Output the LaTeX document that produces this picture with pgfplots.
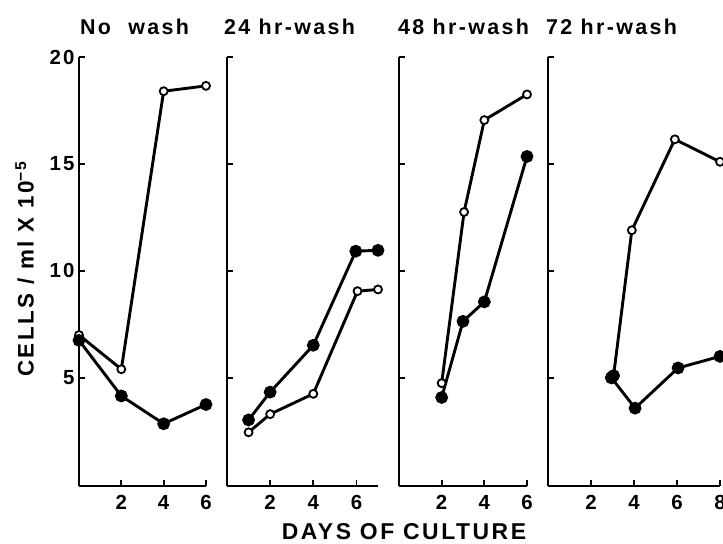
\documentclass[border=0pt]{standalone}
\usepackage{fontspec}
\setmainfont{Liberation Sans}[LetterSpace=11]
\usepackage{pgfplots}
\pgfplotsset{compat=1.18}
\pgfplotsset{
  panel/.style={
    scale only axis,
    axis x line*=bottom, axis y line*=left,
    axis line style={line width=2bp, black},
    ymin=-0.06, ymax=20, height=429bp,
    ytick={5,10,15,20},
    yticklabels={},
    xtick={2,4,6},
    tick align=inside,
    major tick length=6bp,
    every tick/.style={line width=1.8bp, black},
    /pgf/number format/assume math mode=true,
    tick label style={font=\bfseries\fontsize{20.5}{22}\selectfont},
    xticklabel style={yshift=-6bp},
    yticklabel style={xshift=-1bp},
    clip=false,
    anchor=south west,
  },
  openc/.style={line width=2.9bp, black, mark=*, mark size=4bp,
    mark options={fill=white, draw=black, line width=1.8bp, solid}},
  fillc/.style={line width=2.9bp, black, mark=*, mark size=4.9bp,
    mark options={fill=black, draw=black, solid}},
}
\begin{document}
\begin{tikzpicture}
\newcommand{\lbl}{\bfseries\fontsize{21.5}{24}\selectfont}
% Panel 1: No wash
\begin{axis}[panel, at={(79bp,58bp)}, width=127bp, xmin=0, xmax=6,
  yticklabels={5,10,15,20}]
\addplot[openc] coordinates {(0,7.0) (2,5.4) (4,18.4) (6,18.65)};
\addplot[fillc] coordinates {(0,6.75) (2,4.15) (4,2.85) (6,3.75)};
\end{axis}
% Panel 2: 24 hr-wash
\begin{axis}[panel, at={(227bp,58bp)}, width=151bp, xmin=0, xmax=7]
\addplot[openc] coordinates {(1,2.45) (2,3.3) (4,4.25) (6.05,9.05) (7,9.13)};
\addplot[fillc] coordinates {(1,3.03) (2,4.33) (4,6.52) (5.97,10.92) (7,10.96)};
\end{axis}
% Panel 3: 48 hr-wash
\begin{axis}[panel, at={(399bp,58bp)}, width=128bp, xmin=0, xmax=6]
\addplot[openc] coordinates {(2,4.75) (3.05,12.75) (4,17.05) (6,18.25)};
\addplot[fillc] coordinates {(2,4.08) (3,7.64) (4,8.55) (6,15.35)};
\end{axis}
% Panel 4: 72 hr-wash
\begin{axis}[panel, at={(548bp,58bp)}, width=172bp, xmin=0, xmax=8,
  xtick={2,4,6,8}]
\addplot[openc] coordinates {(3.05,5.1) (3.9,11.9) (5.9,16.15) (8,15.1)};
\addplot[fillc] coordinates {(2.95,5.0) (3.05,5.1)};
\addplot[fillc] coordinates {(2.95,5.0) (4.05,3.58) (6.05,5.46) (8,6.0)};
\end{axis}
% titles
\node[anchor=base west, inner sep=0pt] at (80bp,509bp) {\lbl No\hspace{9bp} wash};
\node[anchor=base west, inner sep=0pt] at (224bp,509bp) {\lbl 24 hr-wash};
\node[anchor=base west, inner sep=0pt] at (398bp,509bp) {\lbl 48 hr-wash};
\node[anchor=base west, inner sep=0pt] at (546bp,509bp) {\lbl 72 hr-wash};
% axis labels
\node[anchor=base, inner sep=0pt] at (404bp,5bp) {\bfseries\fontsize{23}{24}\selectfont DAYS OF CULTURE};
\node[anchor=base, inner sep=0pt, rotate=90] at (33.5bp,275bp) {\bfseries\fontsize{22.5}{24}\selectfont CELLS / ml X 10\textsuperscript{−5}};
\pgfresetboundingbox
\useasboundingbox (0,0) rectangle (723bp,544bp);
\end{tikzpicture}
\end{document}
